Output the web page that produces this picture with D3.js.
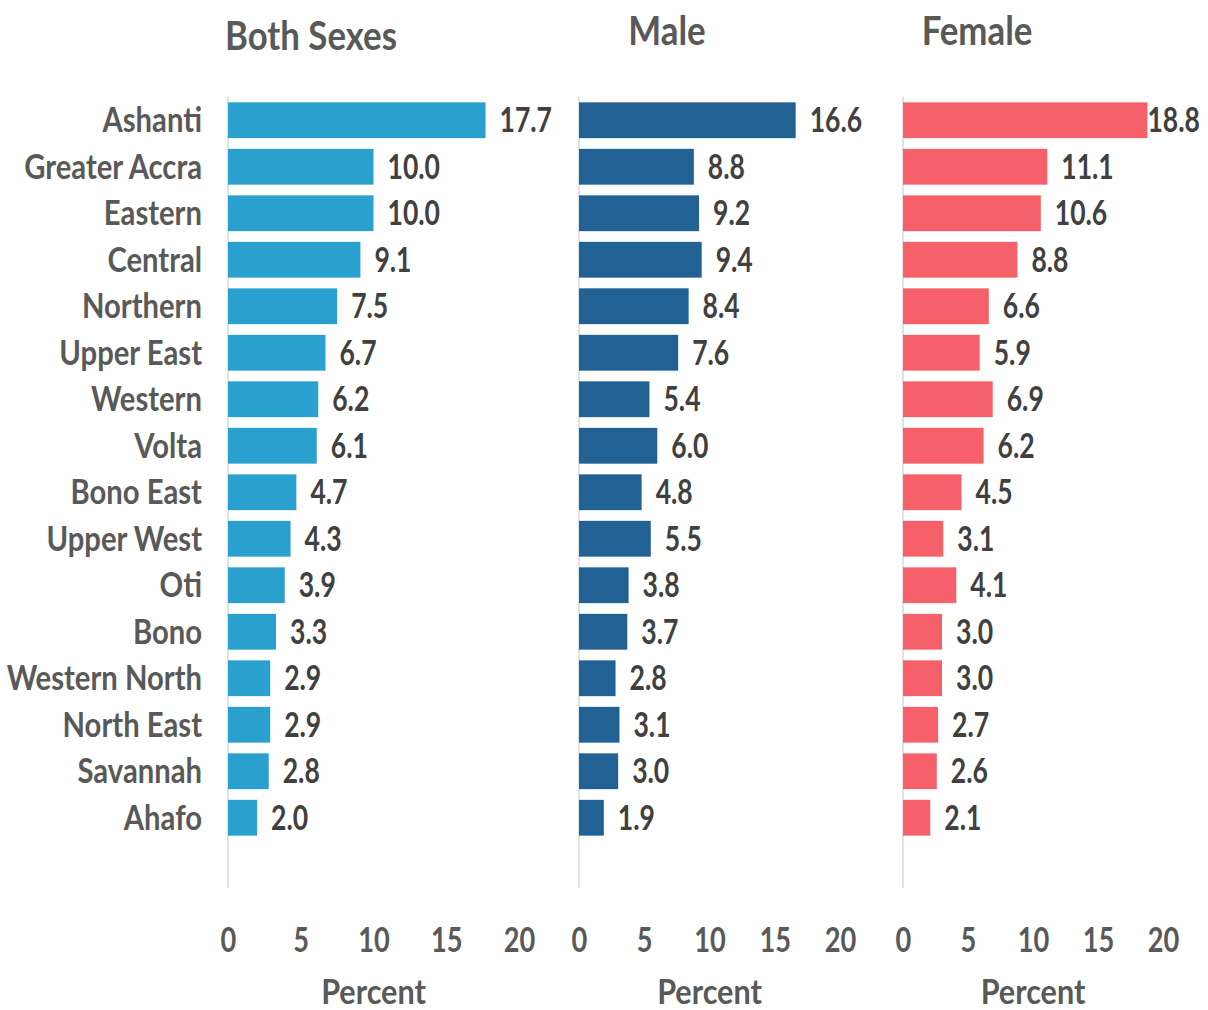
<!DOCTYPE html>
<html>
<head>
<meta charset="utf-8">
<script src="https://cdn.jsdelivr.net/npm/d3@7"></script>
<style>
  body { margin: 0; background: #fff; }
  svg { display: block; }
</style>
</head>
<body>
<div id="chart"></div>
<script>
// Regions, top to bottom
const regions = ['Ashanti', 'Greater Accra', 'Eastern', 'Central', 'Northern', 'Upper East',
  'Western', 'Volta', 'Bono East', 'Upper West', 'Oti', 'Bono', 'Western North',
  'North East', 'Savannah', 'Ahafo'];

const bothSexes = [17.7, 10.0, 10.0, 9.1, 7.5, 6.7, 6.2, 6.1, 4.7, 4.3, 3.9, 3.3, 2.9, 2.9, 2.8, 2.0];
const male      = [16.6, 8.8, 9.2, 9.4, 8.4, 7.6, 5.4, 6.0, 4.8, 5.5, 3.8, 3.7, 2.8, 3.1, 3.0, 1.9];
const female    = [18.8, 11.1, 10.6, 8.8, 6.6, 5.9, 6.9, 6.2, 4.5, 3.1, 4.1, 3.0, 3.0, 2.7, 2.6, 2.1];

const panelTitles = ['Both Sexes', 'Male', 'Female'];
const xTicks = [0, 5, 10, 15, 20];

const width = 1208, height = 1010;
const font = "Lato, 'Open Sans', sans-serif";

const panels = [
  { title: panelTitles[0], values: bothSexes, color: '#29a0cd', x0: 228, x1: 519, titleX: 311, titleY: 50 },
  { title: panelTitles[1], values: male,      color: '#216194', x0: 579, x1: 840, titleX: 667, titleY: 45 },
  { title: panelTitles[2], values: female,    color: '#f5606a', x0: 903, x1: 1163, titleX: 977, titleY: 45 }
];

const svg = d3.select('#chart').append('svg')
  .attr('width', width)
  .attr('height', height)
  .style('font-family', font)
  .style('font-weight', 700);

const y = d3.scaleBand()
  .domain(regions)
  .range([97, 841])
  .paddingInner(0.23)
  .paddingOuter(0.115);

// squeezed text: place at (x,y) then compress horizontally
function squeezed(sel, x, yPos, k) {
  return sel.attr('x', 0).attr('y', 0)
    .attr('transform', (d, i) => `translate(${typeof x === 'function' ? x(d, i) : x},${typeof yPos === 'function' ? yPos(d, i) : yPos}) scale(${k},1)`);
}

panels.forEach((p, pi) => {
  const x = d3.scaleLinear().domain([0, 20]).range([p.x0, p.x1]);
  const g = svg.append('g');
  const rows = regions.map((r, i) => ({ region: r, value: p.values[i] }));

  // vertical baseline
  g.append('line')
    .attr('x1', x(0)).attr('x2', x(0))
    .attr('y1', 97).attr('y2', 888)
    .attr('stroke', '#d9d9d9')
    .attr('stroke-width', 1.5);

  // bars
  g.selectAll('rect')
    .data(rows)
    .join('rect')
    .attr('x', x(0))
    .attr('y', d => y(d.region))
    .attr('width', d => x(d.value) - x(0))
    .attr('height', y.bandwidth())
    .attr('fill', p.color);

  // value labels
  g.selectAll('text.val')
    .data(rows)
    .join('text')
    .attr('class', 'val')
    .attr('font-size', 34)
    .attr('fill', '#404040')
    .attr('dy', '0.36em')
    .text(d => d.value.toFixed(1))
    .call(squeezed, d => x(d.value) + (pi === 2 && d.value > 18 ? 0 : 14), d => y(d.region) + y.bandwidth() / 2, 0.78);

  // x axis tick labels
  const xAxis = d3.axisBottom(x).tickValues(xTicks).tickSize(0).tickPadding(0);
  const ax = g.append('g')
    .attr('transform', 'translate(0,952)')
    .call(xAxis);
  ax.select('.domain').remove();
  ax.selectAll('text')
    .attr('font-family', font)
    .attr('font-size', 34)
    .attr('font-weight', 700)
    .attr('fill', '#595959')
    .attr('dy', 0)
    .attr('transform', 'scale(0.8,1)')
    .attr('x', 0);

  // axis title
  g.append('text')
    .attr('text-anchor', 'middle')
    .attr('font-size', 34)
    .attr('fill', '#595959')
    .text('Percent')
    .call(squeezed, (p.x0 + p.x1) / 2, 1004, 0.9);

  // panel title
  g.append('text')
    .attr('text-anchor', 'middle')
    .attr('font-size', 40)
    .attr('fill', '#595959')
    .text(p.title)
    .call(squeezed, p.titleX, p.titleY, 0.87);

  // region labels on the first panel
  if (pi === 0) {
    const yAxis = d3.axisLeft(y).tickSize(0).tickPadding(0);
    const ay = g.append('g')
      .attr('transform', 'translate(202,0)')
      .call(yAxis);
    ay.select('.domain').remove();
    ay.selectAll('text')
      .attr('font-family', font)
      .attr('font-size', 34)
      .attr('font-weight', 700)
      .attr('fill', '#595959')
      .attr('x', 0)
      .attr('dy', '0.36em')
      .attr('transform', 'scale(0.86,1)');
  }
});
</script>
</body>
</html>
